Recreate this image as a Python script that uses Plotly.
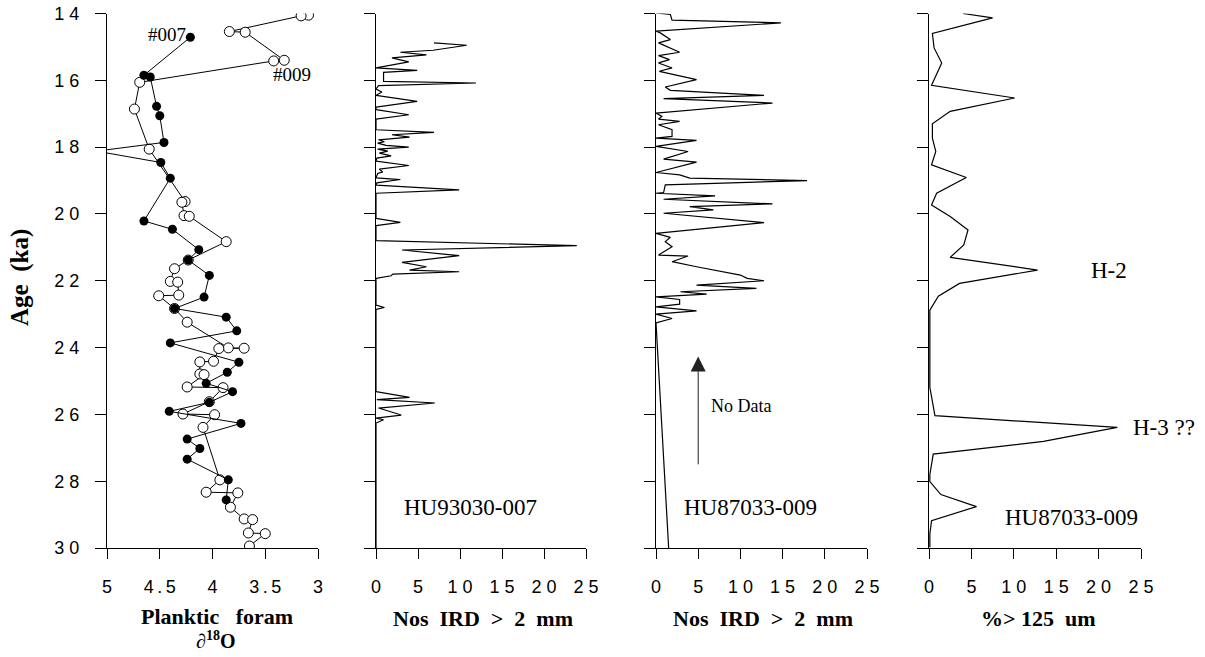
import plotly.graph_objects as go

# ---------------- data ----------------
# Panel 1: planktic foram d18O (#007 filled, #009 open)
d007_age = [14.71, 15.85, 15.90, 16.78, 17.06, 17.86, 18.12, 18.46, 18.93, 20.21, 20.46, 21.07,
            21.38, 21.84, 22.49, 22.83, 23.09, 23.50, 23.86, 24.44, 24.74, 25.07, 25.32, 25.64,
            25.91, 26.27, 26.74, 27.02, 27.34, 27.96, 28.56]
d007_val = [4.21, 4.65, 4.59, 4.53, 4.50, 4.46, 5.10, 4.49, 4.40, 4.65, 4.38, 4.13,
            4.23, 4.03, 4.08, 4.36, 3.87, 3.77, 4.40, 3.75, 3.86, 4.06, 3.81, 4.03,
            4.41, 3.73, 4.24, 4.12, 4.24, 3.85, 3.87]

d009_age = [14.05, 14.07, 14.54, 14.56, 15.40, 15.42, 16.06, 16.86, 18.06, 19.63, 19.65, 20.05,
            20.07, 20.83, 21.38, 21.64, 22.02, 22.04, 22.43, 22.45, 22.83, 23.24, 24.01, 24.02,
            24.03, 24.41, 24.43, 24.79, 24.81, 25.18, 25.20, 25.62, 25.99, 26.01, 26.39, 27.96,
            28.33, 28.35, 28.78, 29.13, 29.15, 29.55, 29.57, 29.94]
d009_val = [3.09, 3.16, 3.84, 3.69, 3.32, 3.42, 4.69, 4.74, 4.60, 4.26, 4.29, 4.27,
            4.22, 3.87, 4.23, 4.36, 4.40, 4.33, 4.32, 4.51, 4.36, 4.24, 3.85, 3.70,
            3.94, 3.99, 4.12, 4.12, 4.08, 4.24, 3.90, 4.03, 4.28, 3.98, 4.09, 3.93,
            4.06, 3.76, 3.83, 3.70, 3.62, 3.66, 3.50, 3.65]

# Panel 2: IRD > 2 mm, HU93030-007
ird007_age = [14.88, 14.95, 15.10, 15.16, 15.24, 15.33, 15.45, 15.63, 15.70, 15.76, 16.03, 16.08,
              16.16, 16.26, 16.35, 16.45, 16.63, 16.80, 16.88, 17.03, 17.16, 17.48, 17.56, 17.63,
              17.70, 17.78, 17.84, 17.88, 17.95, 18.00, 18.06, 18.12, 18.18, 18.26, 18.33, 18.42,
              18.55, 18.66, 18.74, 18.79, 18.92, 18.97, 19.07, 19.14, 19.28, 19.38, 20.13, 20.25,
              20.35, 20.80, 20.95, 21.08, 21.25, 21.45, 21.58, 21.68, 21.73, 21.80, 21.85, 21.93,
              22.73, 22.80, 22.86, 25.32, 25.49, 25.56, 25.66, 25.81, 26.02, 26.11, 26.16, 26.26,
              30.0]
ird007_val = [6.9, 10.8, 6.8, 2.9, 6.0, 1.9, 3.9, 0.0, 4.9, 0.9, 0.9, 11.9,
              0.3, 0.0, 0.7, 0.0, 4.9, 0.0, 0.0, 3.9, 0.0, 0.0, 6.9, 1.9,
              4.0, 0.3, 1.0, 0.2, 1.2, 3.9, 0.2, 1.4, 0.4, 1.8, 0.1, 0.0,
              3.9, 0.4, 0.8, 0.2, 0.0, 2.9, 0.1, 0.0, 9.9, 0.0, 0.0, 2.9,
              0.0, 0.0, 23.9, 3.1, 9.9, 3.1, 6.0, 4.0, 9.9, 2.0, 1.8, 0.0,
              0.0, 1.0, 0.0, 0.0, 4.0, 0.1, 7.0, 0.3, 3.0, 0.0, 0.9, 0.0,
              0.0]

# Panel 3: IRD > 2 mm, HU87033-009
ird009_age = [13.98, 14.03, 14.20, 14.28, 14.53, 14.58, 14.78, 14.88, 15.16, 15.26, 15.38, 15.48,
              15.63, 15.73, 15.98, 16.20, 16.30, 16.45, 16.55, 16.68, 16.98, 17.08, 17.16, 17.23,
              17.33, 17.48, 17.68, 17.73, 17.80, 17.98, 18.13, 18.36, 18.45, 18.76, 18.83, 18.93,
              19.00, 19.13, 19.36, 19.38, 19.46, 19.56, 19.70, 19.78, 19.88, 19.98, 20.26, 20.58,
              20.70, 20.83, 20.98, 21.23, 21.26, 21.43, 21.58, 21.83, 21.93, 22.00, 22.13, 22.23,
              22.33, 22.40, 22.48, 22.56, 22.70, 22.78, 22.90, 23.00, 23.13, 23.26, 30.0]
ird009_val = [0.0, 1.7, 1.9, 14.8, 0.0, 0.5, 1.7, 0.3, 2.8, 0.3, 1.6, 0.3,
              1.9, 0.4, 4.8, 1.1, 1.7, 12.8, 0.9, 13.8, 0.0, 0.7, 0.3, 2.8,
              0.3, 1.9, 1.9, 0.0, 4.8, 0.0, 3.8, 0.9, 4.8, 0.0, 2.8, 4.0,
              17.9, 1.1, 0.9, 0.0, 7.0, 0.9, 13.8, 4.0, 6.8, 0.9, 12.8, 0.0,
              1.7, 1.1, 1.9, 0.3, 3.8, 1.9, 4.8, 10.0, 10.8, 12.8, 4.8, 11.9,
              2.9, 6.0, 0.0, 2.8, 2.8, 0.0, 4.8, 0.0, 1.9, 0.0, 1.5]

# Panel 4: % > 125 um, HU87033-009
coarse_age = [14.00, 14.13, 14.60, 15.03, 15.48, 16.15, 16.53, 16.93, 17.30, 17.73, 18.13, 18.53,
              18.91, 19.38, 19.73, 20.08, 20.48, 20.93, 21.30, 21.68, 22.08, 22.46, 22.88, 23.48,
              23.89, 25.19, 26.04, 26.39, 26.81, 27.19, 27.80, 28.01, 28.40, 28.76, 29.18, 29.58,
              29.98]
coarse_val = [4.0, 7.5, 0.4, 0.6, 1.5, 0.3, 10.1, 2.5, 0.4, 0.4, 0.8, 0.3,
              4.4, 0.9, 0.3, 2.5, 4.6, 4.1, 2.5, 12.8, 3.6, 1.1, 0.1, 0.1,
              0.1, 0.1, 0.7, 22.2, 13.5, 0.5, 0.1, 0.1, 1.4, 5.6, 0.3, 0.1,
              0.1]

age_ticks = [14, 16, 18, 20, 22, 24, 26, 28, 30]
age_ticktext = ["1 4", "1 6", "1 8", "2 0", "2 2", "2 4", "2 6", "2 8", "3 0"]
d18o_ticks = [5, 4.5, 4, 3.5, 3]
d18o_ticktext = ["5", "4\u2009.\u20095", "4", "3\u2009.\u20095", "3"]
ird_ticks = [0, 5, 10, 15, 20, 25]
ird_ticktext = ["0", "5", "1 0", "1 5", "2 0", "2 5"]

# ---------------- figure ----------------
W, H = 1205, 657
fig = go.Figure()

line_k = dict(color="black", width=1.2)

fig.add_trace(go.Scatter(x=d009_val, y=d009_age, mode="lines+markers", xaxis="x", yaxis="y",
                         line=dict(color="black", width=1),
                         marker=dict(symbol="circle", size=10, color="white",
                                     line=dict(color="black", width=1)),
                         showlegend=False, cliponaxis=True))
fig.add_trace(go.Scatter(x=d007_val, y=d007_age, mode="lines+markers", xaxis="x", yaxis="y",
                         line=dict(color="black", width=1),
                         marker=dict(symbol="circle", size=9, color="black"),
                         showlegend=False, cliponaxis=True))
fig.add_trace(go.Scatter(x=ird007_val, y=ird007_age, mode="lines", xaxis="x2", yaxis="y2",
                         line=line_k, showlegend=False))
fig.add_trace(go.Scatter(x=ird009_val, y=ird009_age, mode="lines", xaxis="x3", yaxis="y3",
                         line=line_k, showlegend=False))
fig.add_trace(go.Scatter(x=coarse_val, y=coarse_age, mode="lines", xaxis="x4", yaxis="y4",
                         line=line_k, showlegend=False))

tick_font = dict(family="Liberation Sans, Arial, sans-serif", size=18, color="black")
y_dom = [1 - 548 / H, 1 - 13.5 / H]
x_doms = [(107, 318), (376, 586), (656, 867), (929, 1141)]

def xaxis_cfg(dom, rng, tv, tt):
    return dict(domain=[dom[0] / W, dom[1] / W], range=rng, showline=True, linecolor="black",
                linewidth=1, ticks="outside", ticklen=10, tickwidth=1, tickcolor="black",
                tickvals=tv, ticktext=tt, tickfont=tick_font, showgrid=False, zeroline=False,
                ticklabelstandoff=12, fixedrange=True)

def yaxis_cfg(anchor, labels):
    return dict(domain=y_dom, range=[30, 14], anchor=anchor, showline=True, linecolor="black",
                linewidth=1, ticks="outside", ticklen=11, tickwidth=1, tickcolor="black",
                tickvals=age_ticks, ticktext=age_ticktext, showticklabels=labels,
                tickfont=tick_font, showgrid=False, zeroline=False, ticklabelstandoff=12,
                fixedrange=True)

fig.update_layout(
    width=W, height=H, margin=dict(l=0, r=0, t=0, b=0, autoexpand=False),
    paper_bgcolor="white", plot_bgcolor="white", showlegend=False,
    xaxis=xaxis_cfg(x_doms[0], [5, 3], d18o_ticks, d18o_ticktext) | dict(anchor="y"),
    xaxis2=xaxis_cfg(x_doms[1], [0, 25], ird_ticks, ird_ticktext) | dict(anchor="y2"),
    xaxis3=xaxis_cfg(x_doms[2], [0, 25], ird_ticks, ird_ticktext) | dict(anchor="y3"),
    xaxis4=xaxis_cfg(x_doms[3], [0, 25], ird_ticks, ird_ticktext) | dict(anchor="y4"),
    yaxis=yaxis_cfg("x", True),
    yaxis2=yaxis_cfg("x2", False),
    yaxis3=yaxis_cfg("x3", False),
    yaxis4=yaxis_cfg("x4", False),
)

serif = "Liberation Serif, Times New Roman, serif"
def px_ann(text, x, y, size, bold=False, angle=0):
    t = f"<b>{text}</b>" if bold else text
    fig.add_annotation(text=t, x=x / W, y=1 - y / H, xref="paper", yref="paper",
                       showarrow=False, xanchor="center", yanchor="middle", textangle=angle,
                       font=dict(family=serif, size=size, color="black"))

# axis titles
px_ann("Age\u00a0\u00a0(ka)", 20, 278, 25, bold=True, angle=-90)
px_ann("Planktic\u00a0\u00a0\u00a0foram", 217, 616, 22, bold=True)
px_ann("\u2202<sup>18</sup>O", 215, 640, 20, bold=True)
px_ann("Nos\u00a0\u00a0IRD\u00a0\u00a0>\u00a0\u00a02\u00a0\u00a0mm", 483, 618, 22, bold=True)
px_ann("Nos\u00a0\u00a0IRD\u00a0\u00a0>\u00a0\u00a02\u00a0\u00a0mm", 763, 618, 22, bold=True)
px_ann("%>\u00a0125\u00a0\u00a0um", 1038, 618, 22, bold=True)

# in-plot labels
px_ann("#007", 167, 35, 19)
px_ann("#009", 292, 75, 19)
px_ann("HU93030-007", 470, 507, 23)
px_ann("HU87033-009", 750, 507, 23)
px_ann("HU87033-009", 1071, 517, 23)
px_ann("H-2", 1109, 270, 23)
px_ann("H-3 ??", 1164, 427, 23)
px_ann("No Data", 741, 406, 18)

# "No Data" arrow (data coords of panel 3)
fig.add_annotation(x=5, y=24.27, xref="x3", yref="y3", ax=5, ay=27.54, axref="x3", ayref="y3",
                   text="", showarrow=True, arrowhead=2, arrowsize=3, arrowwidth=1,
                   arrowcolor="#222222")

fig.write_html("out.html")
